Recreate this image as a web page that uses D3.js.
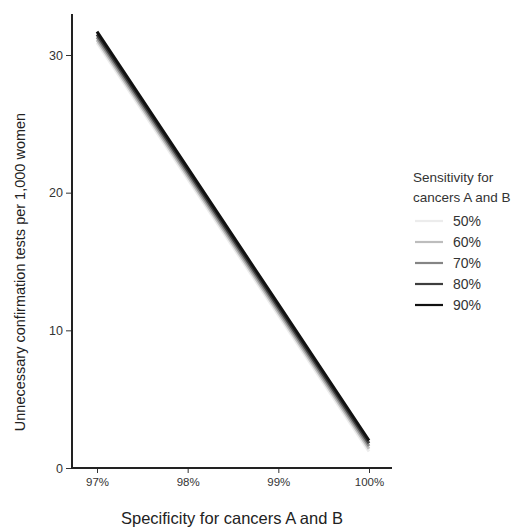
<!DOCTYPE html>
<html>
<head>
<meta charset="utf-8">
<script src="https://cdn.jsdelivr.net/npm/d3@7"></script>
<style>
  body { margin: 0; background: #fff; }
  text { font-family: "Liberation Sans", Arial, sans-serif; }
</style>
</head>
<body>
<svg id="chart" width="520" height="527"></svg>
<script>
// DATA
const specificity = [97, 98, 99, 100]
const sensitivityLabels = ['50%', '60%', '70%', '80%', '90%']
// unnecessary confirmation tests per 1,000 women, one array per sensitivity
const tests50 = [30.9, 21.0, 11.1, 1.2]
const tests60 = [31.1, 21.2, 11.3, 1.4]
const tests70 = [31.3, 21.4, 11.5, 1.6]
const tests80 = [31.5, 21.6, 11.7, 1.8]
const tests90 = [31.7, 21.8, 11.9, 2.0]
const xTicks = [97, 98, 99, 100]
const yTicks = [0, 10, 20, 30]

const seriesValues = [tests50, tests60, tests70, tests80, tests90]
const colors = ['#ececec', '#bdbdbd', '#858585', '#3e3e3e', '#111111']

const svg = d3.select('#chart')

// scales
const x = d3.scaleLinear().domain([97, 100]).range([97, 369])
const y = d3.scaleLinear().domain([0, 30]).range([468, 55])

// axes
const xAxis = d3.axisBottom(x).tickValues(xTicks).tickFormat(d => d + '%').tickSize(5).tickPadding(5)
const yAxis = d3.axisLeft(y).tickValues(yTicks).tickSize(6).tickPadding(3)

const gx = svg.append('g').attr('transform', 'translate(0,468)').call(xAxis)
const gy = svg.append('g').attr('transform', 'translate(72,0)').call(yAxis)

gx.select('.domain').remove()
gy.select('.domain').remove()
gx.selectAll('text').attr('font-size', 11.5).attr('fill', '#333')
gy.selectAll('text').attr('font-size', 12.5).attr('fill', '#333')
gx.selectAll('line').attr('stroke', '#333')
gy.selectAll('line').attr('stroke', '#333')

// axis lines (a bit longer than the tick range, like the original)
svg.append('line')
    .attr('x1', 72).attr('x2', 392)
    .attr('y1', 468).attr('y2', 468)
    .attr('stroke', '#222').attr('stroke-width', 2)
svg.append('line')
    .attr('x1', 72).attr('x2', 72)
    .attr('y1', 14).attr('y2', 469)
    .attr('stroke', '#222').attr('stroke-width', 2)

// lines
const line = d3.line()
    .x((d, i) => x(specificity[i]))
    .y(d => y(d))

svg.selectAll('.series')
    .data(seriesValues)
    .join('path')
    .attr('class', 'series')
    .attr('d', d => line(d))
    .attr('fill', 'none')
    .attr('stroke', (d, i) => colors[i])
    .attr('stroke-width', 3)

// axis titles
svg.append('text')
    .attr('x', 232).attr('y', 524)
    .attr('text-anchor', 'middle')
    .attr('font-size', 16.5)
    .attr('fill', '#222')
    .text('Specificity for cancers A and B')

svg.append('text')
    .attr('transform', 'translate(25,272) rotate(-90)')
    .attr('text-anchor', 'middle')
    .attr('font-size', 14.5)
    .attr('fill', '#222')
    .text('Unnecessary confirmation tests per 1,000 women')

// legend
const legend = svg.append('g').attr('transform', 'translate(413,0)')
legend.append('text').attr('x', 0).attr('y', 182).attr('font-size', 13.5).attr('fill', '#333').text('Sensitivity for')
legend.append('text').attr('x', 0).attr('y', 202).attr('font-size', 13.5).attr('fill', '#333').text('cancers A and B')

const rows = legend.selectAll('.row')
    .data(sensitivityLabels)
    .join('g')
    .attr('class', 'row')
    .attr('transform', (d, i) => `translate(0,${221 + i * 21})`)

rows.append('line')
    .attr('x1', 2).attr('x2', 30)
    .attr('stroke', (d, i) => colors[i])
    .attr('stroke-width', 2.2)

rows.append('text')
    .attr('x', 40).attr('y', 5)
    .attr('font-size', 14)
    .attr('fill', '#333')
    .text(d => d)
</script>
</body>
</html>
